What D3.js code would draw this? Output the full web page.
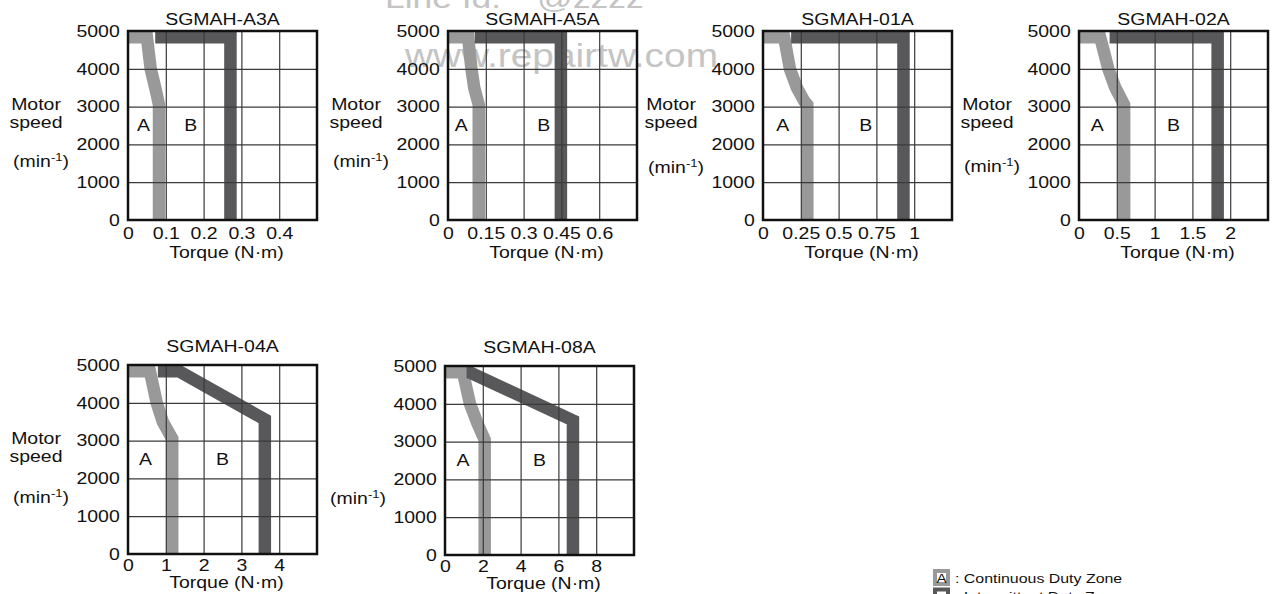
<!DOCTYPE html>
<html>
<head>
<meta charset="utf-8">
<script src="https://cdn.jsdelivr.net/npm/d3@7"></script>
<style>
body { margin: 0; background: #fff; }
svg { display: block; font-family: "Liberation Sans", Arial, sans-serif; }
</style>
</head>
<body>
<svg id="chart" width="1273" height="594"></svg>
<script>
// servo motor torque-speed curves, one panel per model

var models = ["SGMAH-A3A", "SGMAH-A5A", "SGMAH-01A", "SGMAH-02A", "SGMAH-04A", "SGMAH-08A"];

var torqueMax = [0.5, 0.75, 1.25, 2.5, 5, 10];

var torqueTicks = [
    [0, 0.1, 0.2, 0.3, 0.4],
    [0, 0.15, 0.3, 0.45, 0.6],
    [0, 0.25, 0.5, 0.75, 1],
    [0, 0.5, 1, 1.5, 2],
    [0, 1, 2, 3, 4],
    [0, 2, 4, 6, 8]
];

var speedTicks = [0, 1000, 2000, 3000, 4000, 5000];

// continuous duty zone (A) boundary, [torque, speed]
var continuous = [
    [[0, 4835], [0.05, 4835], [0.06, 4000], [0.072, 3500], [0.082, 3050], [0.082, 0]],
    [[0, 4835], [0.08, 4835], [0.093, 4000], [0.104, 3500], [0.122, 3050], [0.122, 0]],
    [[0, 4835], [0.14, 4835], [0.178, 4000], [0.224, 3500], [0.272, 3150], [0.293, 3050], [0.293, 0]],
    [[0, 4835], [0.28, 4835], [0.388, 4000], [0.48, 3500], [0.597, 3050], [0.597, 0]],
    [[0, 4835], [0.58, 4835], [0.76, 4000], [0.92, 3500], [1.17, 3050], [1.17, 0]],
    [[0, 4835], [0.95, 4835], [1.32, 4000], [1.7, 3500], [2.1, 3050], [2.1, 0]]
];

// intermittent duty zone (B) boundary, [torque, speed]
var intermittent = [
    [[0.072, 4835], [0.271, 4835], [0.271, 0]],
    [[0.106, 4835], [0.448, 4835], [0.448, 0]],
    [[0.186, 4835], [0.929, 4835], [0.929, 0]],
    [[0.405, 4835], [1.834, 4835], [1.834, 0]],
    [[0.79, 4835], [1.35, 4835], [3.62, 3560], [3.62, 0]],
    [[1.14, 4835], [1.3, 4835], [6.77, 3560], [6.77, 0]]
];

// where the "A" and "B" letters sit (torque), at 2500 min-1
var zoneLetterTorque = [
    [0.041, 0.166],
    [0.053, 0.38],
    [0.13, 0.68],
    [0.24, 1.25],
    [0.46, 2.5],
    [0.95, 5]
];

var showSpeedName = [true, true, true, true, true, false];

var legendZones = ["Continuous Duty Zone", "Intermittent Duty Zone"];

// layout
var panelLeft = [128, 448, 763, 1079, 128, 445];
var panelTop = [31, 31, 31, 31, 365, 366];
var W = 189, H = 189;
var minLabelDy = [136, 136, 142, 141, 138, 138];
var SX = 1.18;           // the source lettering is a bit wider than Arial
var FS = 16.5;
var LIGHT = "#999999", DARK = "#58585a";

var svg = d3.select("#chart");

// faint watermark, behind everything
svg.append("text")
    .attr("transform", "translate(385,8) scale(" + SX + ",1)")
    .attr("font-size", 30).attr("fill", "#c4c4c4")
    .text("Line Id:");
svg.append("text")
    .attr("transform", "translate(537,8) scale(" + SX + ",1)")
    .attr("font-size", 30).attr("fill", "#c4c4c4")
    .text("@zzzz");
svg.append("text")
    .attr("x", 405).attr("y", 67)
    .attr("font-size", 33).attr("fill", "#c4c4c4")
    .attr("textLength", 313).attr("lengthAdjust", "spacingAndGlyphs")
    .text("www.repairtw.com");

function label(g, x, y, txt, anchor)
{
    return g.append("text")
	.attr("transform", "translate(" + x + "," + y + ") scale(" + SX + ",1)")
	.attr("text-anchor", anchor || "middle")
	.attr("font-size", FS)
	.attr("fill", "#111")
	.text(txt);
}

models.forEach(function(name, i){

    var g = svg.append("g")
	.attr("transform", "translate(" + panelLeft[i] + "," + panelTop[i] + ")");

    var x = d3.scaleLinear().domain([0, torqueMax[i]]).range([0, W]);
    var y = d3.scaleLinear().domain([0, 5000]).range([H, 0]);

    g.append("clipPath").attr("id", "clip" + i)
	.append("rect").attr("width", W).attr("height", H);

    var line = d3.line()
	.x(function(d){ return x(d[0]); })
	.y(function(d){ return y(d[1]); });

    var plot = g.append("g").attr("clip-path", "url(#clip" + i + ")");

    plot.append("path")
	.attr("d", line(continuous[i]))
	.attr("fill", "none")
	.attr("stroke", LIGHT)
	.attr("stroke-width", 12.5)
	.attr("stroke-linejoin", "miter");

    plot.append("path")
	.attr("d", line(intermittent[i]))
	.attr("fill", "none")
	.attr("stroke", DARK)
	.attr("stroke-width", 12.5)
	.attr("stroke-linejoin", "miter");

    // grid on top of the bands
    var gridX = d3.range(1, 5).map(function(k){ return torqueMax[i] * k / 5; });
    g.append("g").call(d3.axisBottom(x).tickValues(gridX).tickSize(-H).tickFormat(""))
	.attr("transform", "translate(0," + H + ")")
	.call(function(a){ a.select(".domain").remove(); })
	.selectAll("line").attr("stroke", "#3a3a3a").attr("stroke-width", 1.2);
    g.append("g").call(d3.axisLeft(y).tickValues([1000, 2000, 3000, 4000]).tickSize(-W).tickFormat(""))
	.call(function(a){ a.select(".domain").remove(); })
	.selectAll("line").attr("stroke", "#3a3a3a").attr("stroke-width", 1.2);

    g.append("rect")
	.attr("width", W).attr("height", H)
	.attr("fill", "none").attr("stroke", "#111").attr("stroke-width", 2.5);

    // tick labels
    var pad = i < 4 ? 7 : 5;
    var xa = g.append("g")
	.attr("transform", "translate(0," + H + ")")
	.call(d3.axisBottom(x).tickValues(torqueTicks[i]).tickSize(0).tickPadding(pad)
	      .tickFormat(function(d){ return String(+d.toFixed(2)); }));
    xa.attr("font-family", null).select(".domain").remove();
    xa.selectAll("text")
	.attr("font-size", FS).attr("fill", "#111")
	.attr("transform", "scale(" + SX + ",1)");

    var ya = g.append("g")
	.call(d3.axisLeft(y).tickValues(speedTicks).tickSize(0).tickPadding(7)
	      .tickFormat(d3.format("d")));
    ya.attr("font-family", null).select(".domain").remove();
    ya.selectAll("text")
	.attr("font-size", FS).attr("fill", "#111")
	.attr("transform", "scale(" + SX + ",1)");

    label(g, W / 2, -(i < 4 ? 6 : 13), name);
    label(g, W / 2 + 4, H + (i < 4 ? 38 : 34), "Torque (N\u00b7m)");

    if (showSpeedName[i]){
	label(g, -92, 79, "Motor");
	label(g, -92, 97, "speed");
    }
    var mn = g.append("text")
	.attr("transform", "translate(-87," + minLabelDy[i] + ") scale(" + SX + ",1)")
	.attr("text-anchor", "middle")
	.attr("font-size", FS)
	.attr("fill", "#111");
    mn.append("tspan").text("(min");
    mn.append("tspan").attr("font-size", 11).attr("dy", -6).text("-1");
    mn.append("tspan").attr("dy", 6).text(")");

    label(g, x(zoneLetterTorque[i][0]), y(2500), "A").attr("dy", "0.35em");
    label(g, x(zoneLetterTorque[i][1]), y(2500), "B").attr("dy", "0.35em");
});

// legend, bottom right (second row runs off the picture)
var legend = svg.append("g").attr("transform", "translate(933,569)");
legendZones.forEach(function(z, k){
    var row = legend.append("g").attr("transform", "translate(0," + (k * 18.5) + ")");
    row.append("rect")
	.attr("x", 2).attr("y", 2).attr("width", 13).attr("height", 13)
	.attr("fill", "#fff")
	.attr("stroke", k == 0 ? LIGHT : DARK).attr("stroke-width", 4);
    if (k == 0) label(row, 8.5, 13.5, "A").attr("font-size", 13);
    label(row, 22, 13.5, ": " + z, "start").attr("font-size", 13.5);
});
</script>
</body>
</html>
